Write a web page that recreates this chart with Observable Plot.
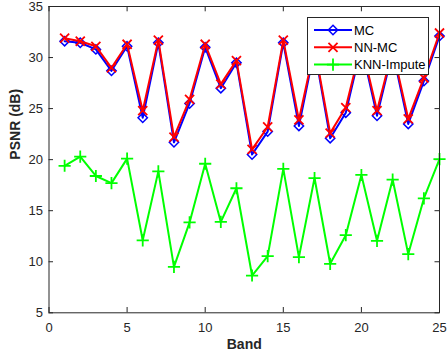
<!DOCTYPE html>
<html>
<head>
<meta charset="utf-8">
<script src="https://cdn.jsdelivr.net/npm/d3@7"></script>
<script src="https://cdn.jsdelivr.net/npm/@observablehq/plot@0.6"></script>
<style>
  html, body { margin: 0; padding: 0; background: #fff; }
  #wrap { position: relative; width: 448px; height: 360px; font-family: "Liberation Sans", Arial, sans-serif; }
  #legend { position: absolute; left: 307px; top: 17px; width: 120px; height: 56px; background: #fff; border: 1px solid #262626; }
</style>
</head>
<body>
<div id="wrap"><div id="legend"></div></div>
<script>
const band = [1,2,3,4,5,6,7,8,9,10,11,12,13,14,15,16,17,18,19,20,21,22,23,24,25];
const mc   = [31.6,31.45,30.8,28.7,31.1,24.1,31.45,21.7,25.5,31.0,27.0,29.5,20.5,22.75,31.45,23.3,30.8,22.1,24.6,31.1,24.3,30.6,23.5,27.7,32.1];
const nnmc = [31.9,31.6,31.1,29.0,31.3,24.8,31.7,22.2,25.9,31.3,27.4,29.7,21.0,23.2,31.7,23.9,31.0,22.6,25.1,31.3,24.8,30.8,24.0,28.0,32.4];
const knn  = [19.4,20.3,18.4,17.7,20.1,12.1,18.85,9.5,13.85,19.6,13.9,17.2,8.65,10.55,19.1,10.45,18.2,9.8,12.6,18.5,12.05,18.05,10.75,16.2,20.05];
const seriesNames = ["MC", "NN-MC", "KNN-Impute"];
const seriesColors = ["#0000ff", "#ff0000", "#00ff00"];
const seriesSymbols = ["diamond2", "times", "plus"];
const seriesR = [4.2, 4.2, 4.0];
const seriesSW = [1.5, 1.8, 1.8];
const xTicks = [0,5,10,15,20,25];
const yTicks = [5,10,15,20,25,30,35];

const rows = band.map((b, i) => ({band: b, mc: mc[i], nnmc: nnmc[i], knn: knn[i]}));
const keys = ["mc", "nnmc", "knn"];
const axisColor = "#262626";

const seriesMarks = keys.flatMap((k, i) => [
  Plot.line(rows, {x: "band", y: k, stroke: seriesColors[i], strokeWidth: 2}),
  Plot.dot(rows, {x: "band", y: k, symbol: seriesSymbols[i], r: seriesR[i], stroke: seriesColors[i], strokeWidth: seriesSW[i], fill: "none"})
]);

const chart = Plot.plot({
  width: 448, height: 360,
  marginLeft: 48.5, marginRight: 9, marginTop: 6, marginBottom: 47.7,
  style: {fontFamily: "'Liberation Sans', Arial, sans-serif", fontSize: "13px", color: axisColor, background: "white"},
  x: {domain: [0, 25], label: null},
  y: {domain: [5, 35], label: null},
  marks: [
    Plot.axisX(xTicks, {tickSize: 0, tickPadding: 10, fontSize: 13, fill: axisColor}),
    Plot.axisY(yTicks, {tickSize: 0, tickPadding: 6, fontSize: 13, fill: axisColor}),
    Plot.tickX(xTicks, {x: d => d, insetTop: 301, stroke: axisColor}),
    Plot.tickX(xTicks, {x: d => d, insetBottom: 301, stroke: axisColor}),
    Plot.tickY(yTicks, {y: d => d, insetRight: 386, stroke: axisColor}),
    Plot.tickY(yTicks, {y: d => d, insetLeft: 386, stroke: axisColor}),
    ...seriesMarks,
    Plot.frame({stroke: axisColor}),
    Plot.text(["Band"], {frameAnchor: "bottom", dy: 36, fontWeight: "bold", fontSize: 14, fill: axisColor}),
    Plot.text(["PSNR (dB)"], {frameAnchor: "left", dx: -33, rotate: -90, fontWeight: "bold", fontSize: 14, fill: axisColor})
  ]
});
const wrap = document.getElementById("wrap");
wrap.insertBefore(chart, wrap.firstChild);

// Legend
const lg = d3.select("#legend").append("svg").attr("width", 120).attr("height", 56);
const symMap = {diamond2: d3.symbolDiamond2, times: d3.symbolTimes, plus: d3.symbolPlus};
seriesNames.forEach((name, i) => {
  const y = 12 + i * 17.3;
  lg.append("line").attr("x1", 6).attr("x2", 44).attr("y1", y).attr("y2", y)
    .attr("stroke", seriesColors[i]).attr("stroke-width", 2);
  const r = seriesR[i];
  lg.append("path").attr("d", d3.symbol(symMap[seriesSymbols[i]], Math.PI * r * r)())
    .attr("transform", `translate(25,${y})`).attr("fill", "none")
    .attr("stroke", seriesColors[i]).attr("stroke-width", seriesSW[i]);
  lg.append("text").attr("x", 46).attr("y", y).attr("dy", "0.35em")
    .attr("font-size", 13).attr("fill", "#000")
    .attr("font-family", "'Liberation Sans', Arial, sans-serif").text(name);
});
</script>
</body>
</html>
